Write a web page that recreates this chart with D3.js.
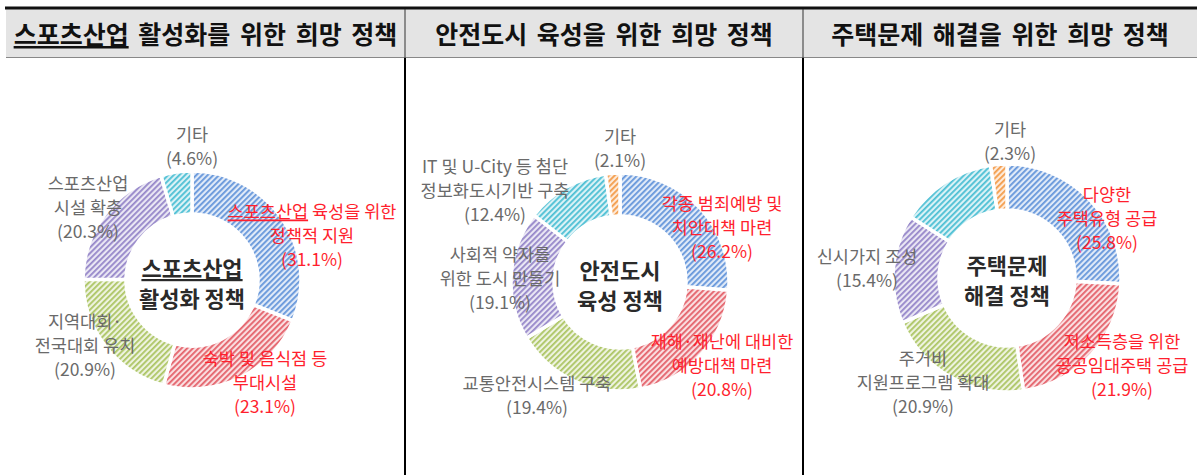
<!DOCTYPE html>
<html>
<head>
<meta charset="utf-8">
<script src="https://cdn.jsdelivr.net/npm/d3@7"></script>
<style>
  body { margin: 0; background: #fff; }
  svg text { font-family: "Noto Sans CJK KR", "Noto Sans", sans-serif; }
</style>
</head>
<body>
<div id="chart"></div>
<script>
// data
const panelTitles = ['스포츠산업 활성화를 위한 희망 정책', '안전도시 육성을 위한 희망 정책', '주택문제 해결을 위한 희망 정책'];
const centerTitles = [['스포츠산업', '활성화 정책'], ['안전도시', '육성 정책'], ['주택문제', '해결 정책']];

const sportsLabels = ['스포츠산업 육성을 위한\n정책적 지원', '숙박 및 음식점 등\n부대시설', '지역대회·\n전국대회 유치', '스포츠산업\n시설 확충', '기타'];
const sportsValues = [31.1, 23.1, 20.9, 20.3, 4.6];

const safetyLabels = ['각종 범죄예방 및\n치안대책 마련', '재해·재난에 대비한\n예방대책 마련', '교통안전시스템 구축', '사회적 약자를\n위한 도시 만들기', 'IT 및 U-City 등 첨단\n정보화도시기반 구축', '기타'];
const safetyValues = [26.2, 20.8, 19.4, 19.1, 12.4, 2.1];

const housingLabels = ['다양한\n주택유형 공급', '저소득층을 위한\n공공임대주택 공급', '주거비\n지원프로그램 확대', '신시가지 조성', '', '기타'];
const housingValues = [25.8, 21.9, 20.9, 15.4, 13.7, 2.3];

const sportsColors = ['blue', 'red', 'green', 'purple', 'cyan'];
const otherColors = ['blue', 'red', 'green', 'purple', 'cyan', 'orange'];

// layout (not data)
const palette = {
    blue: '#6596da', red: '#e4616a', green: '#acc564',
    purple: '#9586c9', cyan: '#4cbfd4', orange: '#f39c4a'
};
const panels = [
    {labels: sportsLabels, values: sportsValues, colors: sportsColors, cx: 192, cy: 280, r0: 66, r1: 109,
        offs: [[120, -70], [73, 77], [-107, 40], [-104, -98], [0, -147]], ct: [-13, 17], ul: true},
    {labels: safetyLabels, values: safetyValues, colors: otherColors, cx: 620, cy: 282, r0: 66, r1: 109,
        offs: [[102, -80], [102, 58], [-83, 100], [-120, -29], [-125, -117], [0, -147]], ct: [-13, 17]},
    {labels: housingLabels, values: housingValues, colors: otherColors, cx: 1007, cy: 278, r0: 68, r1: 114,
        offs: [[100, -85], [115, 62], [-84, 79], [-140, -23], [0, 0], [3, -150]], ct: [-14, 16]}
];
const cells = [[6, 405], [405, 803], [803, 1197]];

const W = 1203, H = 475;
const svg = d3.select('#chart').append('svg')
    .attr('width', W)
    .attr('height', H);

// hatch patterns
const defs = svg.append('defs');
Object.keys(palette).forEach((k) => {
    const p = defs.append('pattern')
        .attr('id', 'hatch-' + k)
        .attr('patternUnits', 'userSpaceOnUse')
        .attr('width', 4)
        .attr('height', 4)
        .attr('patternTransform', 'rotate(45)');
    p.append('rect')
        .attr('width', 4).attr('height', 4)
        .attr('fill', d3.interpolateRgb(palette[k], '#fff')(0.8));
    p.append('rect')
        .attr('width', 1.8).attr('height', 4)
        .attr('fill', palette[k]);
});

// header
svg.append('rect')
    .attr('x', 6).attr('y', 9)
    .attr('width', 1191).attr('height', 48)
    .attr('fill', '#e4e4e4');
svg.append('line')
    .attr('x1', 5).attr('x2', 1197)
    .attr('y1', 8).attr('y2', 8)
    .attr('stroke', '#111').attr('stroke-width', 3);
svg.append('line')
    .attr('x1', 6).attr('x2', 1197)
    .attr('y1', 57.5).attr('y2', 57.5)
    .attr('stroke', '#888').attr('stroke-width', 1);
[405, 803].forEach((x) => {
    svg.append('line')
        .attr('x1', x).attr('x2', x)
        .attr('y1', 9).attr('y2', 58)
        .attr('stroke', '#333').attr('stroke-width', 1);
    svg.append('line')
        .attr('x1', x).attr('x2', x)
        .attr('y1', 58).attr('y2', H)
        .attr('stroke', '#000').attr('stroke-width', 2);
});

// one line of text, "스포츠산업" underlined when asked
function addLine(sel, str, ul) {
    const key = '스포츠산업';
    if (ul && str.startsWith(key)) {
        sel.append('tspan').attr('text-decoration', 'underline').text(key);
        sel.append('tspan').text(str.slice(key.length));
    } else {
        sel.append('tspan').text(str);
    }
}

panelTitles.forEach((t, i) => {
    const tx = svg.append('text')
        .attr('x', (cells[i][0] + cells[i][1]) / 2)
        .attr('y', 33)
        .attr('text-anchor', 'middle')
        .attr('dominant-baseline', 'central')
        .attr('font-size', 25)
        .attr('font-weight', 'bold')
        .attr('word-spacing', 4)
        .attr('fill', '#111');
    addLine(tx, t, i === 0);
});

const pie = d3.pie().sort(null).value((d) => d);

// multi-line text block as a single <text>
function block(g, lines, x, y, step, ul) {
    const tx = g.append('text')
        .attr('text-anchor', 'middle');
    lines.forEach((s, k) => {
        const row = tx.append('tspan')
            .attr('x', x)
            .attr('y', y + k * step)
            .attr('dominant-baseline', 'central');
        addLine(row, s, ul && k === 0);
    });
    return tx;
}

panels.forEach((pnl, pi) => {
    const g = svg.append('g')
        .attr('transform', `translate(${pnl.cx}, ${pnl.cy})`);
    const arc = d3.arc().innerRadius(pnl.r0).outerRadius(pnl.r1);
    g.selectAll('path')
        .data(pie(pnl.values))
        .enter()
        .append('path')
        .attr('d', arc)
        .attr('fill', (d, i) => `url(#hatch-${pnl.colors[i]})`)
        .attr('stroke', '#fff')
        .attr('stroke-width', 3.5)
        .attr('stroke-linejoin', 'miter');

    // center title
    block(g, centerTitles[pi], 0, pnl.ct[0], pnl.ct[1] - pnl.ct[0], pnl.ul)
        .attr('font-size', 22)
        .attr('font-weight', 'bold')
        .attr('fill', '#2a2a2a');

    // slice labels
    pnl.labels.forEach((lab, i) => {
        if (!lab) return;
        const lines = lab.split('\n').concat([`(${pnl.values[i]}%)`]);
        block(g, lines, pnl.offs[i][0], pnl.offs[i][1], 24, pnl.ul && i === 0)
            .attr('font-size', 17.5)
            .attr('fill', i < 2 ? '#ff1f2e' : '#6a6a6a');
    });
});
</script>
</body>
</html>
